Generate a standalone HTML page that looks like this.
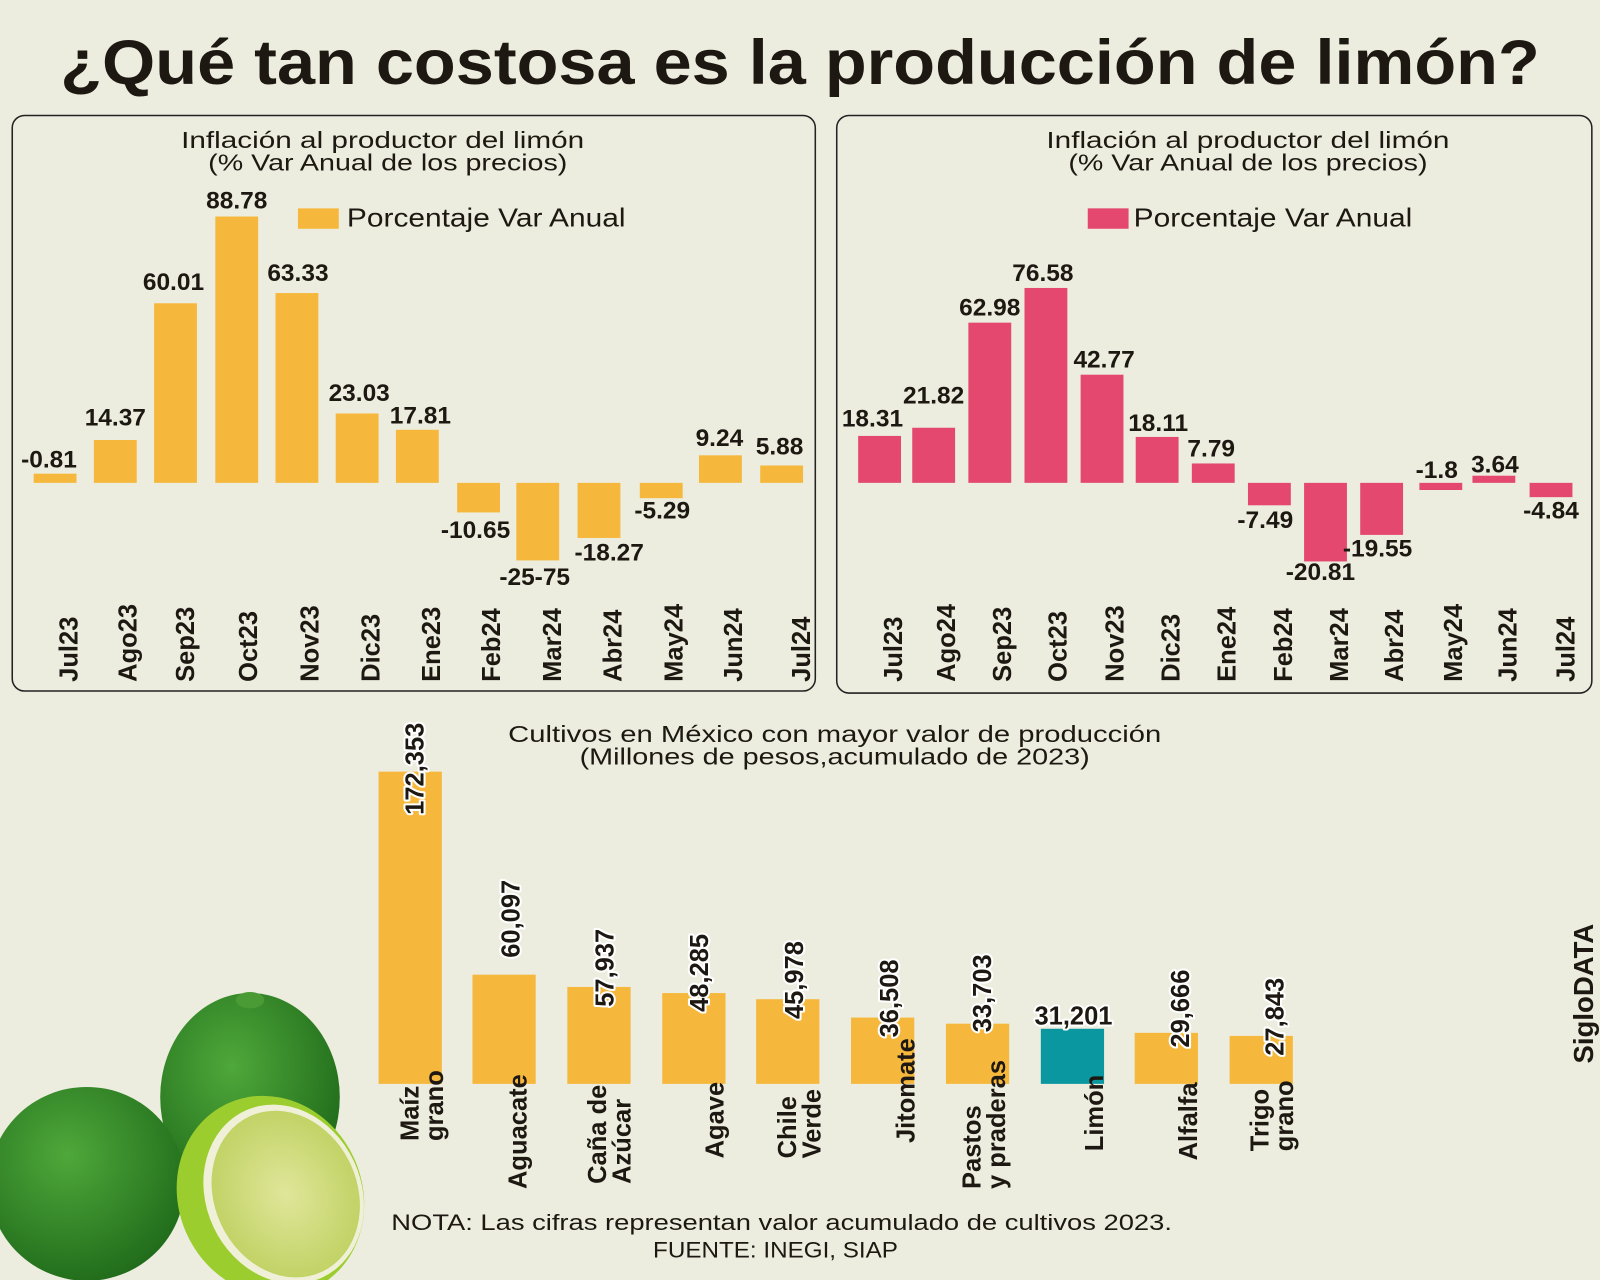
<!DOCTYPE html>
<html><head><meta charset="utf-8"><style>
html,body{margin:0;padding:0;background:#ecedde;}
svg{display:block}
text{font-family:"Liberation Sans",sans-serif;fill:#1d1812}
.b{font-weight:bold}
.o{stroke:#fff;stroke-width:4px;paint-order:stroke;stroke-linejoin:round}
</style></head><body>
<svg width="1600" height="1280" viewBox="0 0 1568 1254" xmlns="http://www.w3.org/2000/svg">
<rect width="1568" height="1254" fill="#ecedde"/>
<text x="784" y="82" text-anchor="middle" class="b" font-size="62" textLength="1450" lengthAdjust="spacingAndGlyphs">¿Qué tan costosa es la producción de limón?</text>

<!-- LEFT PANEL -->
<rect x="12" y="113" width="787" height="564" rx="12" fill="none" stroke="#222" stroke-width="1.5"/>
<text x="375" y="145" text-anchor="middle" font-size="23" textLength="395" lengthAdjust="spacingAndGlyphs">Inflación al productor del limón</text>
<text x="380" y="167" text-anchor="middle" font-size="23" textLength="352" lengthAdjust="spacingAndGlyphs">(% Var Anual de los precios)</text>
<rect x="292" y="204" width="40" height="20" fill="#f6b83c"/>
<text x="340" y="222" font-size="25" textLength="273" lengthAdjust="spacingAndGlyphs">Porcentaje Var Anual</text>
<g fill="#f6b83c">
<rect x="33" y="464" width="42" height="9"/>
<rect x="92" y="431" width="42" height="42"/>
<rect x="151" y="297" width="42" height="176"/>
<rect x="211" y="212" width="42" height="261"/>
<rect x="270" y="287" width="42" height="186"/>
<rect x="329" y="405" width="42" height="68"/>
<rect x="388" y="421" width="42" height="52"/>
<rect x="448" y="473" width="42" height="29"/>
<rect x="506" y="473" width="42" height="76"/>
<rect x="566" y="473" width="42" height="54"/>
<rect x="627" y="473" width="42" height="15"/>
<rect x="685" y="446" width="42" height="27"/>
<rect x="745" y="456" width="42" height="17"/>
</g>
<g font-size="24" class="b" text-anchor="middle">
<text x="48" y="458">-0.81</text>
<text x="113" y="417">14.37</text>
<text x="170" y="284">60.01</text>
<text x="232" y="204">88.78</text>
<text x="292" y="275">63.33</text>
<text x="352" y="393">23.03</text>
<text x="412" y="415">17.81</text>
<text x="466" y="527">-10.65</text>
<text x="524" y="573">-25-75</text>
<text x="597" y="549">-18.27</text>
<text x="649" y="508">-5.29</text>
<text x="705" y="437">9.24</text>
<text x="764" y="445">5.88</text>
</g>
<g font-size="25" class="b">
<text transform="translate(76,668) rotate(-90)">Jul23</text>
<text transform="translate(134,668) rotate(-90)">Ago23</text>
<text transform="translate(190,668) rotate(-90)">Sep23</text>
<text transform="translate(252,668) rotate(-90)">Oct23</text>
<text transform="translate(312,668) rotate(-90)">Nov23</text>
<text transform="translate(372,668) rotate(-90)">Dic23</text>
<text transform="translate(431,668) rotate(-90)">Ene23</text>
<text transform="translate(490,668) rotate(-90)">Feb24</text>
<text transform="translate(550,668) rotate(-90)">Mar24</text>
<text transform="translate(609,668) rotate(-90)">Abr24</text>
<text transform="translate(669,668) rotate(-90)">May24</text>
<text transform="translate(727,668) rotate(-90)">Jun24</text>
<text transform="translate(794,668) rotate(-90)">Jul24</text>
</g>

<!-- RIGHT PANEL -->
<rect x="820" y="113" width="740" height="566" rx="12" fill="none" stroke="#222" stroke-width="1.5"/>
<text x="1223" y="145" text-anchor="middle" font-size="23" textLength="395" lengthAdjust="spacingAndGlyphs">Inflación al productor del limón</text>
<text x="1223" y="167" text-anchor="middle" font-size="23" textLength="352" lengthAdjust="spacingAndGlyphs">(% Var Anual de los precios)</text>
<rect x="1066" y="204" width="40" height="20" fill="#e4486f"/>
<text x="1111" y="222" font-size="25" textLength="273" lengthAdjust="spacingAndGlyphs">Porcentaje Var Anual</text>
<g fill="#e4486f">
<rect x="841" y="427" width="42" height="46"/>
<rect x="894" y="419" width="42" height="54"/>
<rect x="949" y="316" width="42" height="157"/>
<rect x="1004" y="282" width="42" height="191"/>
<rect x="1059" y="367" width="42" height="106"/>
<rect x="1113" y="428" width="42" height="45"/>
<rect x="1168" y="454" width="42" height="19"/>
<rect x="1223" y="473" width="42" height="22"/>
<rect x="1278" y="473" width="42" height="77"/>
<rect x="1333" y="473" width="42" height="51"/>
<rect x="1391" y="473" width="42" height="7"/>
<rect x="1443" y="466" width="42" height="7"/>
<rect x="1499" y="473" width="42" height="14"/>
</g>
<g font-size="24" class="b" text-anchor="middle">
<text x="855" y="418">18.31</text>
<text x="915" y="395">21.82</text>
<text x="970" y="309">62.98</text>
<text x="1022" y="275">76.58</text>
<text x="1082" y="360">42.77</text>
<text x="1135" y="422">18.11</text>
<text x="1187" y="447">7.79</text>
<text x="1240" y="517">-7.49</text>
<text x="1294" y="568">-20.81</text>
<text x="1350" y="545">-19.55</text>
<text x="1408" y="468">-1.8</text>
<text x="1465" y="463">3.64</text>
<text x="1520" y="508">-4.84</text>
</g>
<g font-size="25" class="b">
<text transform="translate(884,668) rotate(-90)">Jul23</text>
<text transform="translate(936,668) rotate(-90)">Ago24</text>
<text transform="translate(991,668) rotate(-90)">Sep23</text>
<text transform="translate(1045,668) rotate(-90)">Oct23</text>
<text transform="translate(1101,668) rotate(-90)">Nov23</text>
<text transform="translate(1156,668) rotate(-90)">Dic23</text>
<text transform="translate(1211,668) rotate(-90)">Ene24</text>
<text transform="translate(1266,668) rotate(-90)">Feb24</text>
<text transform="translate(1321,668) rotate(-90)">Mar24</text>
<text transform="translate(1375,668) rotate(-90)">Abr24</text>
<text transform="translate(1433,668) rotate(-90)">May24</text>
<text transform="translate(1486,668) rotate(-90)">Jun24</text>
<text transform="translate(1543,668) rotate(-90)">Jul24</text>
</g>

<!-- BOTTOM CHART -->
<text x="818" y="727" text-anchor="middle" font-size="23" textLength="640" lengthAdjust="spacingAndGlyphs">Cultivos en México con mayor valor de producción</text>
<text x="818" y="749" text-anchor="middle" font-size="23" textLength="500" lengthAdjust="spacingAndGlyphs">(Millones de pesos,acumulado de 2023)</text>
<g fill="#f6b83c">
<rect x="371" y="756" width="62" height="306"/>
<rect x="463" y="955" width="62" height="107"/>
<rect x="556" y="967" width="62" height="95"/>
<rect x="649" y="973" width="62" height="89"/>
<rect x="741" y="979" width="62" height="83"/>
<rect x="834" y="997" width="62" height="65"/>
<rect x="927" y="1003" width="62" height="59"/>
<rect x="1020" y="1008" width="62" height="54" fill="#0a97a0"/>
<rect x="1112" y="1012" width="62" height="50"/>
<rect x="1205" y="1015" width="62" height="47"/>
</g>
<g font-size="25" class="b o" text-anchor="end">
<text transform="translate(415,708) rotate(-90)">172,353</text>
<text transform="translate(509,862) rotate(-90)">60,097</text>
<text transform="translate(601,910) rotate(-90)">57,937</text>
<text transform="translate(694,915) rotate(-90)">48,285</text>
<text transform="translate(787,922) rotate(-90)">45,978</text>
<text transform="translate(880,940) rotate(-90)">36,508</text>
<text transform="translate(971,935) rotate(-90)">33,703</text>
<text transform="translate(1165,950) rotate(-90)">29,666</text>
<text transform="translate(1258,958) rotate(-90)">27,843</text>
</g>
<text x="1052" y="1004" text-anchor="middle" font-size="25" class="b o">31,201</text>
<g font-size="25" class="b">
<text transform="translate(410,1118) rotate(-90)">Maíz</text>
<text transform="translate(434,1118) rotate(-90)">grano</text>
<text transform="translate(516,1165) rotate(-90)">Aguacate</text>
<text transform="translate(594,1160) rotate(-90)">Caña de</text>
<text transform="translate(618,1160) rotate(-90)">Azúcar</text>
<text transform="translate(709,1135) rotate(-90)">Agave</text>
<text transform="translate(780,1135) rotate(-90)">Chile</text>
<text transform="translate(804,1135) rotate(-90)">Verde</text>
<text transform="translate(896,1120) rotate(-90)">Jitomate</text>
<text transform="translate(961,1165) rotate(-90)">Pastos</text>
<text transform="translate(985,1165) rotate(-90)">y praderas</text>
<text transform="translate(1081,1128) rotate(-90)">Limón</text>
<text transform="translate(1173,1137) rotate(-90)">Alfalfa</text>
<text transform="translate(1243,1128) rotate(-90)">Trigo</text>
<text transform="translate(1267,1128) rotate(-90)">grano</text>
</g>
<text transform="translate(1561,1042) rotate(-90)" font-size="27" class="b">SigloDATA</text>

<text x="766" y="1205" text-anchor="middle" font-size="22" textLength="765" lengthAdjust="spacingAndGlyphs">NOTA: Las cifras representan valor acumulado de cultivos 2023.</text>
<text x="760" y="1232" text-anchor="middle" font-size="22" textLength="240" lengthAdjust="spacingAndGlyphs">FUENTE: INEGI, SIAP</text>

<!-- LIMES -->
<defs>
<radialGradient id="g1" cx="0.4" cy="0.35" r="0.7"><stop offset="0" stop-color="#4fa83a"/><stop offset="1" stop-color="#1f6a1a"/></radialGradient>
<radialGradient id="g2" cx="0.5" cy="0.5" r="0.6"><stop offset="0" stop-color="#e0e69a"/><stop offset="1" stop-color="#bccf5c"/></radialGradient>
</defs>
<ellipse cx="245" cy="1075" rx="88" ry="102" fill="url(#g1)"/>
<ellipse cx="245" cy="980" rx="14" ry="8" fill="#4a9a35"/>
<ellipse cx="85" cy="1160" rx="96" ry="95" fill="url(#g1)"/>
<ellipse cx="265" cy="1172" rx="90" ry="100" transform="rotate(-25 265 1172)" fill="#9ccd2e"/>
<ellipse cx="278" cy="1170" rx="76" ry="90" transform="rotate(-25 278 1170)" fill="#f0f0d8"/>
<ellipse cx="280" cy="1170" rx="70" ry="84" transform="rotate(-25 280 1170)" fill="url(#g2)"/>
</svg>
</body></html>
